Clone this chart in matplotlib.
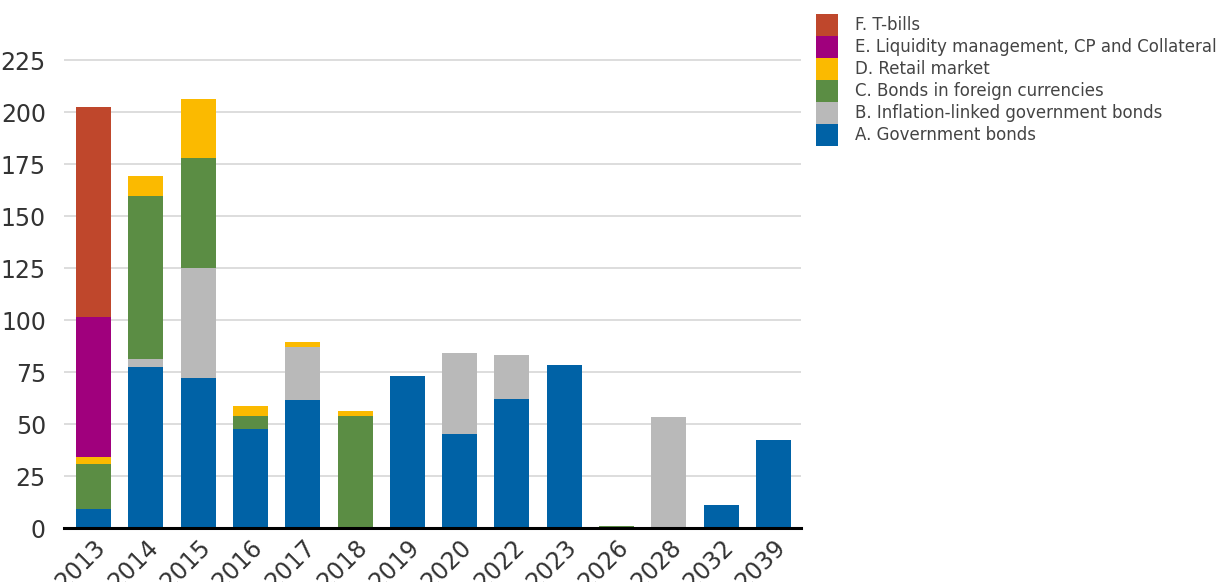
import matplotlib
matplotlib.use("Agg")
import matplotlib.pyplot as plt
from matplotlib.patches import Patch
import numpy as np

years = ["2013", "2014", "2015", "2016", "2017", "2018", "2019",
         "2020", "2022", "2023", "2026", "2028", "2032", "2039"]

gov_bonds = [9.3, 77.6, 72.3, 47.7, 61.7, 0, 72.9, 45.0, 61.8, 78.6, 0, 0, 10.9, 42.5]
inflation_linked = [0, 3.8, 52.9, 0, 25.5, 0, 0, 39.0, 21.6, 0, 0, 53.2, 0, 0]
foreign_ccy = [21.6, 78.4, 52.9, 6.3, 0, 54.0, 0, 0, 0, 0, 0.8, 0, 0, 0]
retail = [3.4, 9.6, 28.3, 4.8, 2.4, 2.4, 0, 0, 0, 0, 0, 0, 0, 0]
liquidity = [67.3, 0, 0, 0, 0, 0, 0, 0, 0, 0, 0, 0, 0, 0]
t_bills = [100.9, 0, 0, 0, 0, 0, 0, 0, 0, 0, 0, 0, 0, 0]

series = [
    ("A. Government bonds", gov_bonds, "#0062a6"),
    ("B. Inflation-linked government bonds", inflation_linked, "#b9b9b9"),
    ("C. Bonds in foreign currencies", foreign_ccy, "#5b8d44"),
    ("D. Retail market", retail, "#fbba00"),
    ("E. Liquidity management, CP and Collateral", liquidity, "#a0007d"),
    ("F. T-bills", t_bills, "#bf472c"),
]

plt.rcParams["font.family"] = ["DejaVu Sans"]

fig = plt.figure(figsize=(12.19, 5.82), dpi=100)
ax = fig.add_axes([64 / 1219, 54 / 582, 737 / 1219, 520 / 582])

x = np.arange(len(years))
bottom = np.zeros(len(years))
handles = []
for label, vals, color in series:
    vals = np.array(vals)
    ax.bar(x, vals, width=0.67, bottom=bottom, color=color, zorder=3)
    bottom += vals
    handles.append(Patch(facecolor=color, label=label))

ax.set_xlim(-0.564, 13.526)
ax.set_ylim(0, 250)
ax.set_yticks(np.arange(0, 226, 25))
ax.yaxis.grid(True, color="#dddddd", linewidth=1.4, zorder=0)
ax.set_axisbelow(True)
for s in ["left", "right", "top"]:
    ax.spines[s].set_visible(False)
ax.spines["bottom"].set_color("black")
ax.spines["bottom"].set_linewidth(2.2)
ax.spines["bottom"].set_zorder(4)

ax.set_xticks(x)
ax.set_xticklabels(years, rotation=45, ha="right", rotation_mode="anchor")
ax.tick_params(axis="both", length=0, labelsize=17, colors="#333333")
ax.tick_params(axis="y", pad=13)
ax.tick_params(axis="x", pad=5)

fig.legend(handles=handles[::-1], loc="upper left",
           bbox_to_anchor=(816 / 1219, 1 - 14 / 582),
           frameon=False, fontsize=12, labelcolor="#444444",
           handlelength=1.32, handleheight=1.65, labelspacing=0,
           handletextpad=1.02, borderpad=0, borderaxespad=0)

fig.savefig("out.png", dpi=100)
